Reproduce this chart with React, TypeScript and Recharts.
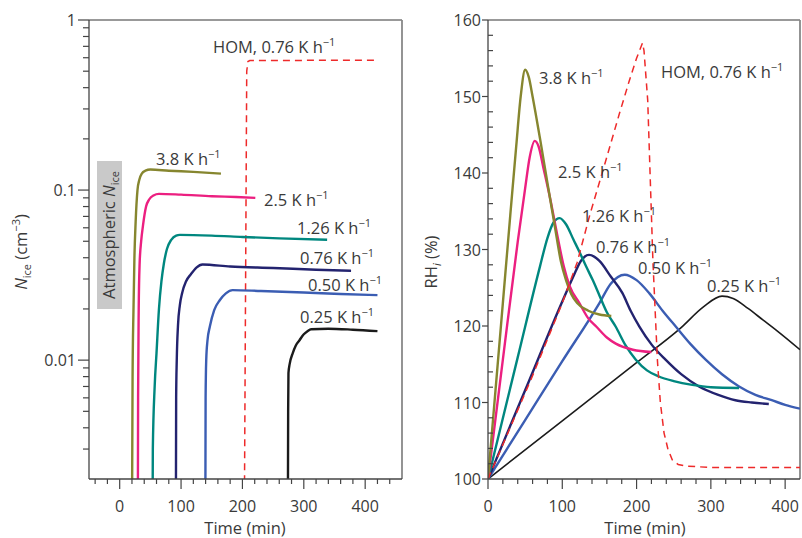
import React from "react";
import { LineChart, Line, XAxis, YAxis, ReferenceLine } from "recharts";

// ---- left panel: N_ice (cm^-3) vs time (min), [time, value]
const niceRate38 = [[20, 0.001], [21, 0.008], [22.5, 0.02], [24, 0.04], [26, 0.065], [29, 0.1], [32, 0.115], [36, 0.125], [42, 0.13], [50, 0.132], [80, 0.13], [120, 0.128], [165, 0.125]];
const niceRate25 = [[29.5, 0.001], [30, 0.006], [31, 0.02], [32.5, 0.037], [35, 0.05], [38, 0.062], [43, 0.08], [48, 0.088], [55, 0.093], [64, 0.095], [100, 0.094], [150, 0.092], [190, 0.091], [221, 0.09]];
const niceRate126 = [[53.5, 0.001], [54, 0.003], [57, 0.007], [60, 0.011], [64, 0.02], [68, 0.029], [72, 0.037], [77, 0.045], [84, 0.051], [92, 0.054], [98, 0.0545], [150, 0.054], [200, 0.053], [260, 0.052], [338, 0.051]];
const niceRate076 = [[91.5, 0.001], [92, 0.006], [93, 0.01], [95, 0.016], [98, 0.021], [102, 0.025], [108, 0.029], [116, 0.032], [125, 0.035], [135, 0.0365], [180, 0.0355], [250, 0.0348], [320, 0.034], [377, 0.0335]];
const niceRate050 = [[139.5, 0.001], [140, 0.006], [141, 0.01], [143, 0.013], [147, 0.0158], [154, 0.0197], [163, 0.0225], [173, 0.0247], [184, 0.0258], [230, 0.0255], [300, 0.025], [360, 0.0245], [420, 0.0241]];
const niceRate025 = [[274, 0.001], [274.5, 0.005], [275, 0.0084], [277, 0.0095], [282, 0.011], [287, 0.0122], [293, 0.0131], [300, 0.0142], [306, 0.0148], [312, 0.0152], [340, 0.0153], [380, 0.0151], [420, 0.0148]];
const niceHom = [[203, 0.001], [207, 0.5], [209, 0.57], [212, 0.578], [420, 0.58]];

// ---- right panel: RH_i (%) vs time (min)
const rhRate38 = [[0, 100], [10, 111.5], [20, 123], [30, 134.5], [38, 143.5], [44, 150], [50, 153.5], [55, 152.5], [60, 150], [70, 144.5], [80, 138.7], [90, 133], [98, 128.5], [105, 126], [112, 124.2], [120, 123], [135, 122], [150, 121.5], [166, 121.3]];
const rhRate25 = [[0, 100], [20, 115.6], [40, 131], [50, 138], [56, 142], [63, 144.2], [68, 143.5], [75, 140.5], [84, 136.5], [93, 132], [102, 127.8], [110, 125.2], [123, 123], [135, 121], [146, 119.9], [160, 118.5], [172, 117.7], [195, 116.9], [220, 116.6]];
const rhRate126 = [[0, 100], [40, 115.9], [70, 127.8], [80, 131.5], [88, 133.5], [96.5, 134.1], [105, 133.3], [115, 131.3], [124, 129.5], [132, 127.8], [141, 126], [150, 124], [160, 121.8], [172, 119.9], [185, 117.5], [199, 115.6], [214, 114.2], [230, 113.4], [250, 112.8], [275, 112.3], [300, 112], [338, 111.9]];
const rhRate076 = [[0, 100], [50, 111.6], [100, 123.2], [115, 126.5], [125, 128.5], [136, 129.3], [150, 128.5], [165, 126.5], [181, 124.3], [192, 122], [204, 119.9], [220, 117.6], [239, 115.6], [260, 113.7], [284, 112.1], [310, 111], [333, 110.3], [355, 110], [378, 109.8]];
const rhRate050 = [[0, 100], [50, 107.7], [100, 115.4], [150, 123], [165, 125.5], [184, 126.7], [200, 126], [217, 124.3], [235, 122], [253, 119.9], [273, 117.6], [293, 115.6], [315, 113.7], [338, 112.1], [360, 111], [382, 110.3], [400, 109.7], [420, 109.2]];
const rhRate025 = [[0, 100], [100, 107.6], [200, 115.2], [260, 119.8], [290, 122.5], [315, 123.9], [330, 123.6], [350, 122.3], [370, 120.8], [390, 119.3], [420, 116.9]];
const rhHom = [[0, 100], [60, 113.5], [100, 123], [120, 128.3], [137, 134.5], [154, 140.1], [177, 147.8], [190, 152], [200, 155], [208, 157], [210, 156], [215, 149.5], [222, 128.5], [228, 115.6], [232, 110], [237, 106], [242, 104], [248, 102.5], [256, 101.9], [266, 101.7], [300, 101.5], [420, 101.5]];

const leftXTicks = [-40, -20, 0, 20, 40, 60, 80, 100, 120, 140, 160, 180, 200, 220, 240, 260, 280, 300, 320, 340, 360, 380, 400, 420, 440];
const rightXTicks = [0, 20, 40, 60, 80, 100, 120, 140, 160, 180, 200, 220, 240, 260, 280, 300, 320, 340, 360, 380, 400];
const logMajor = [0.01, 0.1, 1];
const logTicks = [0.003, 0.004, 0.005, 0.006, 0.007, 0.008, 0.009, 0.01, 0.02, 0.03, 0.04, 0.05, 0.06, 0.07, 0.08, 0.09, 0.1, 0.2, 0.3, 0.4, 0.5, 0.6, 0.7, 0.8, 0.9, 1];
const rhTicks = [100, 102, 104, 106, 108, 110, 112, 114, 116, 118, 120, 122, 124, 126, 128, 130, 132, 134, 136, 138, 140, 142, 144, 146, 148, 150, 152, 154, 156, 158, 160];

const C = {
  olive: "#86862f",
  magenta: "#ec1f80",
  teal: "#00877f",
  navy: "#23236f",
  blue: "#3b5db3",
  black: "#1b1b1b",
  red: "#ee2a2a",
};
const FONT = "'Open Sans', sans-serif";
const TXT = "#3a3a3a";
const FS = 16.5;

const pts = (arr: number[][]) => arr.map(([t, v]) => ({ t, v }));

const leftSeries = [
  { key: "n38", data: niceRate38, color: C.olive },
  { key: "n25", data: niceRate25, color: C.magenta },
  { key: "n126", data: niceRate126, color: C.teal },
  { key: "n076", data: niceRate076, color: C.navy },
  { key: "n050", data: niceRate050, color: C.blue },
  { key: "n025", data: niceRate025, color: C.black },
];
const rightSeries = [
  { key: "r025", data: rhRate025, color: C.black, w: 1.6 },
  { key: "r050", data: rhRate050, color: C.blue, w: 2.4 },
  { key: "r076", data: rhRate076, color: C.navy, w: 2.4 },
  { key: "r126", data: rhRate126, color: C.teal, w: 2.4 },
  { key: "r25", data: rhRate25, color: C.magenta, w: 2.4 },
  { key: "r38", data: rhRate38, color: C.olive, w: 2.4 },
];

const XTick = (props: any) => {
  const { x, y, payload } = props;
  const major = payload.value % 100 === 0;
  return (
    <g>
      <line x1={x} x2={x} y1={y} y2={y + (major ? 10 : 5)} stroke="#444" strokeWidth={1.2} />
      {major && (
        <text x={x} y={y + 33} textAnchor="middle" fontFamily={FONT} fontSize={16} fill={TXT}>
          {payload.value}
        </text>
      )}
    </g>
  );
};

const LogTick = (props: any) => {
  const { x, y, payload } = props;
  const major = logMajor.includes(payload.value);
  return (
    <g>
      <line x1={x - (major ? 11 : 6)} x2={x} y1={y} y2={y} stroke="#444" strokeWidth={1.2} />
      {major && (
        <text x={x - 13} y={y + 6} textAnchor="end" fontFamily={FONT} fontSize={16} fill={TXT}>
          {payload.value}
        </text>
      )}
    </g>
  );
};

const RhTick = (props: any) => {
  const { x, y, payload } = props;
  const major = payload.value % 10 === 0;
  return (
    <g>
      {major ? (
        <line x1={x - 6} x2={x} y1={y} y2={y} stroke="#444" strokeWidth={1.2} />
      ) : (
        <line x1={x} x2={x + 5} y1={y} y2={y} stroke="#444" strokeWidth={1.2} />
      )}
      {major && (
        <text x={x - 7} y={y + 6} textAnchor="end" fontFamily={FONT} fontSize={16} fill={TXT}>
          {payload.value}
        </text>
      )}
    </g>
  );
};

const Rate = ({ x, y, v }: { x: number; y: number; v: string }) => (
  <text x={x} y={y} fontFamily={FONT} fontSize={FS} fill={TXT}>
    {v} K h<tspan dy={-7} fontSize={11}>−1</tspan>
  </text>
);

export default function App() {
  return (
    <div style={{ position: "absolute", left: 0, top: 0, width: 802, height: 538, background: "#fff" }}>
      <div style={{ position: "absolute", left: 0, top: 0 }}>
        <LineChart width={420} height={538} margin={{ top: 20, right: 18, bottom: 0, left: 0 }}>
          <XAxis
            type="number" dataKey="t" domain={[-50, 460]} ticks={leftXTicks} interval={0}
            tick={<XTick />} tickLine={false} tickSize={0} tickMargin={0} height={59}
            axisLine={{ stroke: "#444", strokeWidth: 1.3 }} allowDataOverflow
          />
          <YAxis
            type="number" dataKey="v" scale="log" domain={[0.002, 1]} ticks={logTicks} interval={0}
            tick={<LogTick />} tickLine={false} tickSize={0} tickMargin={0} width={89}
            axisLine={{ stroke: "#444", strokeWidth: 1.3 }} allowDataOverflow
          />
          <ReferenceLine y={1} stroke="#777" strokeWidth={1.3} />
          <ReferenceLine x={460} stroke="#888" strokeWidth={1.8} />
          <Line data={pts(niceHom)} dataKey="v" type="linear" stroke={C.red} strokeWidth={1.5}
            strokeDasharray="7 5" dot={false} isAnimationActive={false} />
          {leftSeries.map((s) => (
            <Line key={s.key} data={pts(s.data)} dataKey="v" type="monotone" stroke={s.color}
              strokeWidth={2.4} dot={false} isAnimationActive={false} />
          ))}
        </LineChart>
      </div>
      <div style={{ position: "absolute", left: 420, top: 0 }}>
        <LineChart width={382} height={538} margin={{ top: 20, right: 2, bottom: 0, left: 0 }}>
          <XAxis
            type="number" dataKey="t" domain={[0, 420]} ticks={rightXTicks} interval={0}
            tick={<XTick />} tickLine={false} tickSize={0} tickMargin={0} height={59}
            axisLine={{ stroke: "#444", strokeWidth: 1.3 }} allowDataOverflow
          />
          <YAxis
            type="number" dataKey="v" domain={[100, 160]} ticks={rhTicks} interval={0}
            tick={<RhTick />} tickLine={false} tickSize={0} tickMargin={0} width={68}
            axisLine={{ stroke: "#444", strokeWidth: 1.3 }} allowDataOverflow
          />
          <ReferenceLine y={160} stroke="#777" strokeWidth={1.3} />
          <ReferenceLine x={420} stroke="#888" strokeWidth={1.8} />
          {rightSeries.map((s) => (
            <Line key={s.key} data={pts(s.data)} dataKey="v" type="monotone" stroke={s.color}
              strokeWidth={s.w} dot={false} isAnimationActive={false} />
          ))}
          <Line data={pts(rhHom)} dataKey="v" type="linear" stroke={C.red} strokeWidth={1.5}
            strokeDasharray="7 5" dot={false} isAnimationActive={false} />
        </LineChart>
      </div>
      <svg width={802} height={538} style={{ position: "absolute", left: 0, top: 0, pointerEvents: "none" }}>
        {/* left annotations */}
        <text x={213} y={53} fontFamily={FONT} fontSize={FS} fill={TXT}>
          HOM, 0.76 K h<tspan dy={-7} fontSize={11}>−1</tspan>
        </text>
        <Rate x={156} y={165} v="3.8" />
        <Rate x={264} y={206} v="2.5" />
        <Rate x={297} y={234} v="1.26" />
        <Rate x={300} y={264} v="0.76" />
        <Rate x={308} y={291} v="0.50" />
        <Rate x={300} y={323} v="0.25" />
        <rect x={97} y={161} width={25} height={148} fill="#c9c9c9" />
        <text transform="translate(115,235) rotate(-90)" textAnchor="middle" fontFamily={FONT} fontSize={FS} fill={TXT}>
          Atmospheric <tspan fontStyle="italic">N</tspan><tspan dy={4} fontSize={11}>ice</tspan>
        </text>
        <text transform="translate(27,252) rotate(-90)" textAnchor="middle" fontFamily={FONT} fontSize={FS} fill={TXT}>
          <tspan fontStyle="italic">N</tspan><tspan dy={4} fontSize={11}>ice</tspan>
          <tspan dy={-4}> (cm</tspan><tspan dy={-7} fontSize={11}>−3</tspan><tspan dy={7}>)</tspan>
        </text>
        <text x={245} y={534} textAnchor="middle" fontFamily={FONT} fontSize={FS} fill={TXT}>Time (min)</text>

        {/* right annotations */}
        <Rate x={539} y={84} v="3.8" />
        <text x={661} y={78} fontFamily={FONT} fontSize={FS} fill={TXT}>
          HOM, 0.76 K h<tspan dy={-7} fontSize={11}>−1</tspan>
        </text>
        <Rate x={558} y={178} v="2.5" />
        <Rate x={582} y={222} v="1.26" />
        <Rate x={596} y={253} v="0.76" />
        <Rate x={638} y={274} v="0.50" />
        <Rate x={707} y={292} v="0.25" />
        <text transform="translate(437,262) rotate(-90)" textAnchor="middle" fontFamily={FONT} fontSize={FS} fill={TXT}>
          RH<tspan dy={4} fontSize={11} fontStyle="italic">i</tspan><tspan dy={-4}> (%)</tspan>
        </text>
        <text x={645} y={534} textAnchor="middle" fontFamily={FONT} fontSize={FS} fill={TXT}>Time (min)</text>
      </svg>
    </div>
  );
}
